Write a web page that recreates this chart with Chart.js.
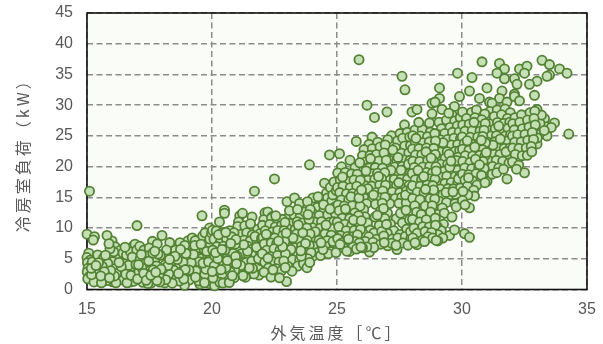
<!DOCTYPE html>
<html>
<head>
<meta charset="utf-8">
<style>
html, body { margin: 0; padding: 0; background: #fff; }
#wrap { width: 603px; height: 344px; }
</style>
<script src="https://cdn.jsdelivr.net/npm/chart.js@4"></script>
</head>
<body>
<div id="wrap"><canvas id="myChart" width="603" height="344"></canvas></div>
<script>
// [outdoor temp C, cooling load kW]
const band15 = [[15.1,16],[15,9],[15.3,8.6],[15.8,8.8],[15.25,8.05],[15.07,5.9],[15,5.2],[15.12,4.75],[15.02,4.35],[15.16,3.85],[15.04,3.45],[15.22,3.15],[15.01,2.85],[15.34,2.55],[15.1,2.15],[15.03,1.75],[15.31,1.57],[15.21,4.47],[15.43,5.62],[15.52,3.36],[15.47,1.38],[15.66,5.13],[15.72,2.08],[15.83,4.24],[15.79,1.46],[15.38,2.93],[15.61,3.77],[15.92,6.63],[15.95,3.04],[15.74,5.58],[15.28,1.23],[15.18,2.41],[15.58,1.1],[15.46,4.36],[15.88,7.46],[15.17,3.44],[15.69,2.9],[15.55,2.2],[15.9,1.9],[15.36,3.9]];
const band16 = [[16,7.9],[16.12,6.97],[16.33,6.38],[16.22,5.17],[16.44,5.93],[16.03,4.52],[16.14,3.41],[16.31,2.87],[16.24,1.83],[16.02,1.26],[16.53,4.38],[16.48,3.02],[16.63,2.04],[16.58,5.61],[16.71,1.22],[16.83,6.98],[16.92,7.37],[16.79,3.16],[16.88,4.63],[17,10.4],[16.94,2.42],[16.41,1.59],[16.74,6.12],[16.67,3.95],[16.99,6.44],[16.18,2.6],[16.86,1.34],[16.52,6.88],[16.07,6.13],[16.37,3.72],[16.81,5.27],[16.28,4.4],[16.6,1.1],[16.96,4.05],[16.16,1.1],[16.55,2.5],[16.1,2.2],[16.76,2.3]];
const band17 = [[17.11,7.03],[17.28,6.41],[17.62,7.84],[17.49,6.77],[17.13,4.97],[17.34,4.24],[17.52,3.08],[17.08,2.89],[17.31,1.93],[17.23,1.18],[17.59,1.64],[17.72,4.83],[17.81,7.41],[17.77,3.84],[17.93,5.58],[17.88,2.37],[17.42,5.44],[17.68,2.02],[17.56,1.03],[17.91,1.22],[17.19,3.56],[17.47,4.62],[17.84,5.76],[17.39,2.47],[17.96,3.29],[17.02,1.71],[17.63,5.93],[17.06,4.02],[17.44,0.96],[17.71,6.23],[17.27,2.6],[17.65,3.2],[17.17,5.7],[17.8,1.45],[17.37,1.5],[17.55,2.3],[17.75,2.8]];
const band18 = [[18,8.8],[18.31,7.63],[18.09,5.57],[18.42,5.18],[18.13,4.03],[18.22,2.96],[18.02,2.18],[18.34,1.41],[18.11,1.07],[18.51,2.03],[18.72,7.61],[18.54,6.38],[18.81,5.22],[18.63,3.79],[18.84,4.43],[18.9,0.7],[18.77,2.87],[18.59,2.19],[18.93,3.24],[18.38,4.61],[18.91,7.18],[18.69,1.37],[18.47,3.16],[18.18,6.42],[18.96,5.87],[18.27,2.53],[18.61,4.88],[18.41,1.02],[18.74,6.52],[18.04,3.38],[18.24,3.9],[18.87,1.7],[18.52,5.4],[18.15,1.6],[18.66,2.6],[18.3,4.9]];
const band19 = [[19.04,7.93],[19.21,8.38],[19.33,7.96],[19.6,12],[19.63,8.71],[19.9,10],[19.72,9.22],[19.11,6.68],[19.42,6.37],[19.68,6.58],[19.93,7.24],[19.13,4.97],[19.38,5.41],[19.58,5.03],[19.81,5.76],[19.02,3.83],[19.28,3.98],[19.53,3.31],[19.77,4.02],[19.88,2.77],[19.23,2.84],[19.44,1.88],[19.61,1.26],[19.09,1.53],[19.83,1.47],[19.91,8.23],[19.31,7.17],[19.71,2.41],[19.49,4.52],[19.17,4.37],[19.94,5.12],[19.36,3.02],[19,6.03],[19.56,7.38],[19.79,6.21],[19.51,0.88],[19.92,0.92],[19.08,3.18],[19.75,3.3],[19.64,4.3],[19.98,9.2],[19.47,1.4],[19.26,5.7],[19.7,1.1],[19.34,2],[19.86,4.5]];
const band20 = [[20.5,12.9],[20.5,12.4],[20.3,11],[20.02,9.64],[20.17,9.52],[20.39,9.18],[20.71,9.58],[20.88,9.23],[20.08,8.17],[20.33,7.62],[20.58,8.24],[20.79,8.57],[20.19,6.98],[20.03,6.41],[20.46,7.04],[20.68,6.87],[20.93,7.38],[20.11,5.43],[20.37,5.79],[20.62,5.52],[20.84,5.88],[20.28,4.47],[20.09,3.83],[20.48,4.03],[20.77,4.39],[20.91,3.17],[20.21,2.79],[20.42,2.23],[20.73,2.84],[20.56,3.58],[20.1,0.6],[20.31,1.17],[20.64,1.38],[20.89,1.93],[20.44,1.04],[20.69,1.12],[20.04,1.87],[20.23,5.02],[20.94,5.36],[20.01,2.91],[20.52,6.42],[20.81,2.24],[20.36,3.22],[20.96,8.13],[20.26,8.9],[20.61,4.7],[20.14,6],[20.75,7.5],[20.98,4.2],[20.4,6.5],[20.55,9.3]];
const band21 = [[21.7,16],[21.6,11.8],[21.11,12],[21.22,12.4],[21.06,11],[21.03,10.27],[21.31,10.37],[21.58,9.96],[21.82,9.78],[21.14,8.96],[21.39,9.23],[21.61,8.88],[21.93,9.12],[21.02,7.83],[21.28,8.02],[21.52,7.88],[21.79,8.04],[21.09,6.76],[21.43,7.03],[21.63,6.58],[21.91,6.98],[21.18,5.83],[21.47,5.58],[21.74,5.63],[21.94,6.03],[21.07,4.58],[21.37,4.41],[21.59,4.62],[21.83,3.62],[21.29,3.41],[21.13,2.77],[21.51,2.58],[21.88,2.36],[21.68,2.53],[21.34,2],[21.96,4.72],[21.62,3.44],[21.24,2.24],[21.78,6.87],[21.42,6.22],[21.72,8.63],[21.01,5.41],[21.54,10.7],[21.27,7.3],[21.86,5],[21.49,3.5],[21.15,3.9],[21.98,8.3]];
const band22 = [[22.5,18],[22.12,12.48],[22.23,12.63],[22.42,11.9],[22.07,11.37],[22.38,11.62],[22.61,11.13],[22.81,11.42],[22.02,10.44],[22.31,10.58],[22.53,10.17],[22.78,10.43],[22.92,10.91],[22.13,9.58],[22.41,9.37],[22.63,9.62],[22.88,9.57],[22.04,8.42],[22.28,8.63],[22.51,8.37],[22.83,8.78],[22.09,7.43],[22.37,7.58],[22.59,7.52],[22.91,7.82],[22.19,6.38],[22.48,6.62],[22.72,6.41],[22.01,5.83],[22.33,5.37],[22.62,5.53],[22.94,5.78],[22.11,4.43],[22.39,4.62],[22.68,4.47],[22.87,4.63],[22.26,3.52],[22.57,3.38],[22.08,2.82],[22.46,2.57],[22.77,3.03],[22.93,3.58],[22.36,2.02],[22.82,6.97],[22.17,8.98],[22.98,1.3],[22.7,1.9],[22.55,12],[22.66,7.9],[22.24,5.1],[22.97,9.2],[22.44,3.2]];
const band23 = [[23,14.3],[23.3,14.9],[23.5,14],[23.82,14.3],[23.9,20.3],[23.02,11.62],[23.28,12.18],[23.53,11.97],[23.71,12.63],[23.93,13.02],[23.08,10.77],[23.41,11.04],[23.62,10.83],[23.88,11.38],[23.01,9.93],[23.33,9.78],[23.49,10.03],[23.79,10.02],[23.13,8.77],[23.38,9.03],[23.67,8.88],[23.92,9.04],[23.17,7.83],[23.47,8.03],[23.81,7.97],[23.04,6.98],[23.31,6.82],[23.58,7.04],[23.89,7.17],[23.12,5.88],[23.37,5.83],[23.69,6.02],[23.96,5.98],[23.22,4.87],[23.51,4.83],[23.83,5.02],[23.03,3.79],[23.43,3.82],[23.66,4.18],[23.8,3.55],[23.2,2.98],[23.57,5.42],[23.63,9.22],[23.1,12.83],[23.42,13.04],[23.91,4.41],[23.24,8.4],[23.74,7.5],[23.16,6.5],[23.45,10.5],[23.84,12.2],[23.55,6.3]];
const band24 = [[24.7,21.9],[24.5,17.3],[24.04,14.9],[24.32,14.43],[24.58,15.7],[24.73,16.62],[24.88,17.5],[24.62,14.9],[24.21,13.37],[24.48,12.97],[24.79,14.38],[24.91,13.42],[24.03,12.37],[24.29,12.04],[24.63,12.18],[24.94,12.27],[24.11,10.97],[24.38,11.03],[24.71,10.96],[24.87,11.02],[24.02,10.04],[24.33,9.97],[24.59,9.83],[24.82,9.91],[24.19,8.97],[24.52,9.04],[24.77,8.83],[24.01,8.17],[24.28,8.03],[24.61,7.96],[24.93,8.04],[24.09,7.02],[24.41,6.97],[24.68,7.04],[24.89,7.12],[24.22,6.01],[24.53,5.98],[24.76,6.17],[24.04,5.43],[24.34,5.52],[24.66,5.83],[24.96,6.02],[24.44,6.5],[24.13,9.4],[24.56,10.5],[24.24,15.1],[24.83,15.4],[24.97,16.1],[24.46,13.8],[24.72,13.1],[24.36,7.6],[24.84,7.8]];
const band25 = [[25.1,22.1],[25.77,24.1],[25.18,19.97],[25.52,21.03],[25.72,19.83],[25.91,20.62],[25.03,18.97],[25.33,19.04],[25.58,18.82],[25.81,18.77],[25.13,17.83],[25.43,17.58],[25.68,17.82],[25.93,17.77],[25.02,16.62],[25.24,16.83],[25.53,16.57],[25.79,16.81],[25.11,15.77],[25.38,15.58],[25.63,15.64],[25.88,15.62],[25.17,14.58],[25.47,14.63],[25.76,14.47],[25.04,13.77],[25.29,13.58],[25.61,13.63],[25.92,13.56],[25.09,12.83],[25.41,12.57],[25.71,12.47],[25.21,11.62],[25.51,11.58],[25.86,12.03],[25.01,10.97],[25.31,10.63],[25.59,10.42],[25.83,10.77],[25.07,10.22],[25.37,9.58],[25.69,9.63],[25.94,9.78],[25.14,8.77],[25.42,8.62],[25.62,8.57],[25.82,8.92],[25.03,8.28],[25.19,7.58],[25.48,7.63],[25.73,7.82],[25.89,7.58],[25.27,6.77],[25.5,6.2],[25.64,6.92],[25.78,6.58],[25.96,6.93],[25.39,6.23],[25.12,7.34],[25.56,15.1],[25.34,13.1],[25.88,14.9],[25.22,18.3],[25.66,11.3],[25.46,8.2],[25.97,11.2],[25.98,16.2]];
const band26 = [[26.2,30],[26.5,28],[25.88,37.4],[26.4,24.8],[26.28,23.62],[26.63,23.97],[26.08,22.77],[26.41,22.91],[26.72,23.18],[26.93,23.53],[26.02,21.78],[26.32,21.83],[26.58,21.97],[26.88,22.23],[26.13,20.77],[26.38,20.84],[26.67,20.92],[26.97,21.03],[26.04,19.83],[26.29,19.77],[26.53,19.84],[26.82,19.76],[26.11,18.78],[26.43,18.83],[26.62,18.93],[26.91,19.02],[26.01,17.83],[26.24,17.77],[26.51,17.91],[26.78,18.03],[26.14,16.87],[26.39,16.83],[26.71,17.02],[26.94,16.97],[26.03,15.82],[26.31,15.93],[26.57,15.78],[26.83,16.04],[26.09,14.87],[26.42,14.78],[26.73,14.93],[26.92,15.02],[26.18,13.97],[26.54,13.87],[26.81,14.04],[26.07,13.02],[26.75,12.82],[26.12,11.83],[26.52,11.78],[26.91,11.57],[26.22,10.83],[26.33,9.67],[26.69,10.42],[26.06,9.03],[26.48,9.22],[26.79,9.43],[26.27,8.58],[26.59,8.17],[26.87,8.72],[26.13,7.83],[26.44,7.68],[26.74,7.38],[26.3,6.1],[26.47,6.83],[26.19,6.92],[26.89,7.63],[26.02,6.78],[26.34,21.3],[26.66,18.4],[26.23,16.4],[26.86,13.2],[26.46,15.4],[26.61,12.1],[26.98,10.6],[26.16,19.3]];
const band27 = [[27,28.9],[27.6,34.7],[27.72,32.5],[27.7,26.8],[27.18,25.02],[27.52,25.37],[27.81,25.58],[27.03,24.38],[27.42,24.17],[27.63,24.62],[27.91,24.83],[27.34,23.02],[27.71,23.37],[27.94,23.42],[27.02,21.97],[27.28,22.03],[27.58,22.18],[27.87,22.23],[27.12,20.97],[27.39,20.93],[27.68,21.08],[27.92,21.02],[27.04,19.87],[27.31,19.93],[27.61,20.02],[27.83,19.96],[27.13,18.88],[27.41,18.93],[27.69,19.03],[27.93,18.97],[27.01,17.88],[27.29,17.93],[27.57,18.02],[27.82,17.97],[27.09,16.83],[27.38,16.91],[27.67,17.04],[27.89,16.96],[27.21,15.88],[27.51,15.77],[27.78,16.03],[27.03,14.87],[27.33,14.83],[27.59,15.02],[27.88,14.97],[27.11,13.98],[27.48,14.02],[27.77,14.12],[27.02,12.43],[27.37,11.52],[27.14,10.63],[27.27,9.58],[27.62,10.83],[27.9,11.38],[27.01,9.17],[27.53,8.97],[27.79,9.83],[27.22,8.23],[27.43,8.38],[27.73,8.63],[27.96,8.37],[27.03,7.1],[27.4,6.5],[27.19,7.53],[27.64,7.58],[27.84,7.22],[27.36,7.2],[27.94,9.42],[27.54,12.4],[27.76,12.9],[27.23,22.7],[27.47,17.4],[27.86,20.4],[27.74,15.4],[27.16,19.4],[27.56,19.4],[27.97,16.4],[27.44,21.5]];
const band28 = [[28,28.9],[28.2,29.3],[28.8,30.3],[28.92,30.5],[28.8,28.6],[28.7,27.1],[28.12,25.97],[28.41,26.03],[28.73,25.62],[28.03,25.02],[28.33,24.97],[28.62,24.88],[28.91,25.37],[28.13,23.97],[28.42,23.88],[28.69,24.03],[28.94,24.18],[28.02,22.88],[28.28,22.93],[28.58,23.02],[28.87,22.97],[28.14,21.88],[28.39,21.93],[28.67,22.03],[28.93,21.97],[28.04,20.88],[28.31,20.83],[28.63,21.02],[28.84,20.97],[28.09,19.87],[28.43,19.93],[28.71,20.03],[28.96,19.97],[28.01,18.88],[28.29,18.91],[28.59,19.03],[28.82,18.96],[28.13,17.88],[28.38,17.83],[28.68,18.02],[28.92,17.97],[28.02,16.88],[28.33,16.83],[28.61,17.03],[28.83,16.91],[28.21,15.82],[28.48,15.77],[28.89,15.81],[28.03,14.83],[28.32,14.63],[28.72,14.78],[28.91,14.72],[28.11,13.62],[28.53,13.58],[28.81,13.63],[28.18,12.58],[28.37,12.22],[28.74,12.62],[28.02,11.42],[28.31,10.98],[28.57,11.37],[28.93,11.62],[28.08,9.97],[28.43,10.22],[28.69,10.17],[28.94,10.47],[28.21,9.18],[28.52,9.42],[28.78,9.27],[28.03,8.38],[28.2,7.3],[28.42,8.02],[28.64,8.58],[28.83,8.37],[28.12,7.62],[28.97,7.98],[28.5,7.8],[28.16,24.6],[28.56,22.4],[28.76,21.4],[28.24,19.4],[28.47,18.4],[28.86,16.2],[28.54,16.3],[28.97,19.3],[28.27,27.2]];
const band29 = [[29.1,32.8],[29.1,31.1],[29.2,29.3],[29.7,29.8],[29.6,28.4],[29.9,31.4],[29.82,35.2],[29.08,27.22],[29.38,27.58],[29.71,27.42],[29.93,27.97],[29.18,26.17],[29.52,26.38],[29.81,26.63],[29.02,25.23],[29.31,25.38],[29.62,25.58],[29.89,25.63],[29.13,24.38],[29.42,24.41],[29.68,24.62],[29.94,24.57],[29.03,23.43],[29.28,23.38],[29.58,23.52],[29.83,23.61],[29.12,22.37],[29.41,22.43],[29.72,22.48],[29.91,22.62],[29.01,21.42],[29.33,21.37],[29.61,21.43],[29.84,21.52],[29.14,20.38],[29.43,20.42],[29.69,20.53],[29.93,20.37],[29.04,19.42],[29.29,19.27],[29.63,19.38],[29.82,19.43],[29.11,18.37],[29.39,18.43],[29.73,18.38],[29.92,18.52],[29.02,17.42],[29.32,17.27],[29.57,17.43],[29.83,17.38],[29.13,16.37],[29.44,16.42],[29.66,16.38],[29.94,16.52],[29.19,15.38],[29.53,15.42],[29.79,15.27],[29.91,14.22],[29.07,14.42],[29.38,14.17],[29.72,13.98],[29.77,13.43],[29.21,13.27],[29.02,12.22],[29.29,12.41],[29.6,11.8],[29.12,11.18],[29.26,10.63],[29.01,10.22],[29.17,9.58],[29.5,8.8],[29.7,9.7],[29.04,8.92],[29.23,8.38],[29.03,7.9],[29.47,28.7],[29.24,23.9],[29.77,21],[29.51,19.9],[29.36,15.8],[29.64,15.9],[29.86,18],[29.48,22],[29.56,20.9]];
const band30 = [[30.4,34.5],[30.8,37.05],[30.3,32.3],[30.7,31.1],[30.02,28.88],[30.38,28.82],[30.58,29.22],[30.91,28.57],[30.18,27.82],[30.52,27.97],[30.79,27.62],[30.03,26.78],[30.29,26.91],[30.61,26.68],[30.93,27.03],[30.12,25.78],[30.41,25.83],[30.72,25.77],[30.88,25.92],[30.01,24.83],[30.33,24.77],[30.63,24.82],[30.83,24.91],[30.09,23.78],[30.37,23.68],[30.69,23.82],[30.94,23.87],[30.02,22.83],[30.28,22.68],[30.59,22.82],[30.82,22.77],[30.13,21.78],[30.43,21.72],[30.71,21.83],[30.92,21.78],[30.03,20.82],[30.32,20.68],[30.62,20.77],[30.84,20.83],[30.11,19.78],[30.39,19.67],[30.67,19.82],[30.89,19.68],[30.02,18.77],[30.27,18.68],[30.56,18.83],[30.78,18.58],[30.12,17.82],[30.42,17.68],[30.6,17],[30.22,16.82],[30.47,16.17],[30.5,15.2],[30.23,15.38],[30.04,15.97],[30.02,14.48],[30.1,9.1],[30.3,8.5],[30.3,13.3],[30.12,13.78],[30.92,17.38],[30.48,27.2],[30.77,24.3],[30.21,24.2],[30.54,21.2],[30.26,18.2],[30.7,20.3],[30.97,22.3],[30.51,23.2]];
const band31 = [[31.5,36.8],[31.7,35.9],[31.4,35.2],[31.7,34.3],[31,32.8],[31.6,32.3],[31.5,31.1],[31.1,30.5],[31.2,30.3],[31.8,30.5],[31.12,28.97],[31.41,29.22],[31.72,29.37],[31.93,28.78],[31.03,28.02],[31.29,28.17],[31.58,28.43],[31.82,27.83],[31.09,26.97],[31.42,27.18],[31.67,27.02],[31.91,27.22],[31.02,26.03],[31.33,26.17],[31.62,25.98],[31.84,26.23],[31.13,24.97],[31.38,25.03],[31.73,24.98],[31.94,25.18],[31.04,23.97],[31.31,24.03],[31.59,23.98],[31.79,24.12],[31.11,22.98],[31.43,23.03],[31.69,22.97],[31.92,23.02],[31.03,21.98],[31.28,22.03],[31.52,21.97],[31.83,21.78],[31.08,20.97],[31.37,21.02],[31.63,20.88],[31.88,20.57],[31.02,19.83],[31.22,20.02],[31.47,19.78],[31.8,18],[31,17.6],[31.21,18.77],[31.39,19.02],[31.66,19.58],[31.53,24.5],[31.24,23.5],[31.76,22.4],[31.47,26.6]];
const band32 = [[32.3,35.9],[32.6,36.35],[32.5,35.2],[32.1,34.3],[32.2,33.4],[32.7,33.4],[32.1,31.8],[32.1,31.4],[32.3,30.7],[32.9,31.6],[32.12,27.97],[32.38,28.42],[32.72,28.77],[32.91,29.03],[32.03,26.98],[32.31,27.22],[32.62,27.58],[32.88,27.82],[32.09,25.98],[32.42,26.17],[32.68,26.43],[32.93,26.77],[32.02,24.97],[32.23,25.18],[32.52,25.23],[32.81,25.57],[32.11,23.98],[32.37,24.03],[32.63,24.27],[32.86,24.42],[32.03,23.02],[32.28,22.97],[32.57,23.04],[32.77,23.28],[32.13,21.97],[32.41,21.78],[32.61,21.83],[32.02,20.77],[32.27,20.23],[32.5,19],[32.18,19.58],[32.79,22.42]];
const band33 = [[33.2,37.3],[33.5,36.6],[33.9,35.9],[34.2,35.2],[33.5,34.9],[33.4,34.7],[33,33.9],[33,29.3],[33.3,27.8],[33.7,27.1],[33.4,26.5],[33,26.2],[33.4,25],[33,23.7],[34.27,25.3],[33.12,27.02],[33.18,28.38],[33.57,26.37],[33.08,25.18],[33.29,25.88],[33.01,24.67]];

// mixed order so overlaps do not shingle from left to right
const allPoints = [].concat(band19, band33, band24, band16, band29, band21, band27, band15, band31, band23,
    band18, band28, band20, band26, band32, band17, band25, band22, band30);
const xTicks = [15, 20, 25, 30, 35];
const yTicks = [0, 5, 10, 15, 20, 25, 30, 35, 40, 45];

// tick labels must not push the plot area in, it has a fixed place on the page
function fixBox(axis) {
    axis.paddingTop = 0;
    axis.paddingBottom = 0;
    axis.paddingLeft = 0;
    axis.paddingRight = 0;
}

// pale plot area, the frame round it, and the wide spacing of the axis titles
const plotFrame = {
    id: 'plotFrame',
    afterLayout(chart) {
        [chart.scales.x, chart.scales.y].forEach(scale => {
            if (scale.spacedTitle) return;
            const drawTitle = scale.drawTitle;
            scale.drawTitle = function () {
                chart.ctx.save();
                chart.ctx.letterSpacing = '3px';
                drawTitle.call(this);
                chart.ctx.restore();
            };
            scale.spacedTitle = true;
        });
    },
    beforeDraw(chart) {
        const a = chart.chartArea, c = chart.ctx;
        c.save();
        c.fillStyle = '#fafcf7';
        c.fillRect(a.left, a.top, a.width, a.height);
        c.restore();
    },
    beforeDatasetsDraw(chart) {
        const a = chart.chartArea, c = chart.ctx;
        c.save();
        c.strokeStyle = '#111';
        c.lineWidth = 1.6;
        c.strokeRect(a.left, a.top, a.width, a.height);
        c.restore();
    }
};

Chart.defaults.font.family = '"Liberation Sans", Arial, sans-serif';

new Chart(document.getElementById('myChart').getContext('2d'), {
    type: 'scatter',
    data: {
        datasets: [{
            label: '冷房室負荷',
            data: allPoints.map(p => ({ x: p[0], y: p[1] })),
            backgroundColor: '#c5e0b4',
            borderColor: '#548235',
            borderWidth: 1.8,
            pointRadius: 4.6,
            clip: false
        }]
    },
    options: {
        responsive: false,
        animation: false,
        layout: { autoPadding: false, padding: { left: 0, right: 16, top: 13, bottom: 0 } },
        plugins: { legend: { display: false }, tooltip: { enabled: false } },
        scales: {
            x: {
                type: 'linear',
                min: 15,
                max: 35,
                afterBuildTicks: axis => { axis.ticks = xTicks.map(v => ({ value: v })); },
                afterFit: axis => { axis.height = 54.5; fixBox(axis); },
                grid: { color: '#8c8c8c', lineWidth: 1.5, drawTicks: false, tickLength: 0 },
                border: { dash: [6, 3.5], display: false },
                ticks: { color: '#595959', font: { size: 16 }, padding: 10, maxRotation: 0 },
                title: {
                    display: true,
                    text: '外気温度［℃］',
                    color: '#595959',
                    font: { size: 16, family: '"Noto Sans CJK JP"' },
                    padding: { top: 0, bottom: 1 }
                }
            },
            y: {
                min: 0,
                max: 45,
                afterBuildTicks: axis => { axis.ticks = yTicks.map(v => ({ value: v })); },
                afterFit: axis => { axis.width = 87; fixBox(axis); },
                grid: { color: '#8c8c8c', lineWidth: 1.5, drawTicks: false, tickLength: 0 },
                border: { dash: [6, 3.5], display: false },
                ticks: { color: '#595959', font: { size: 16 }, padding: 14 },
                title: {
                    display: true,
                    text: '冷房室負荷（kW）',
                    color: '#595959',
                    font: { size: 16, family: '"Noto Sans CJK JP"' },
                    padding: { top: 13, bottom: 0 }
                }
            }
        }
    },
    plugins: [plotFrame]
});
</script>
</body>
</html>
